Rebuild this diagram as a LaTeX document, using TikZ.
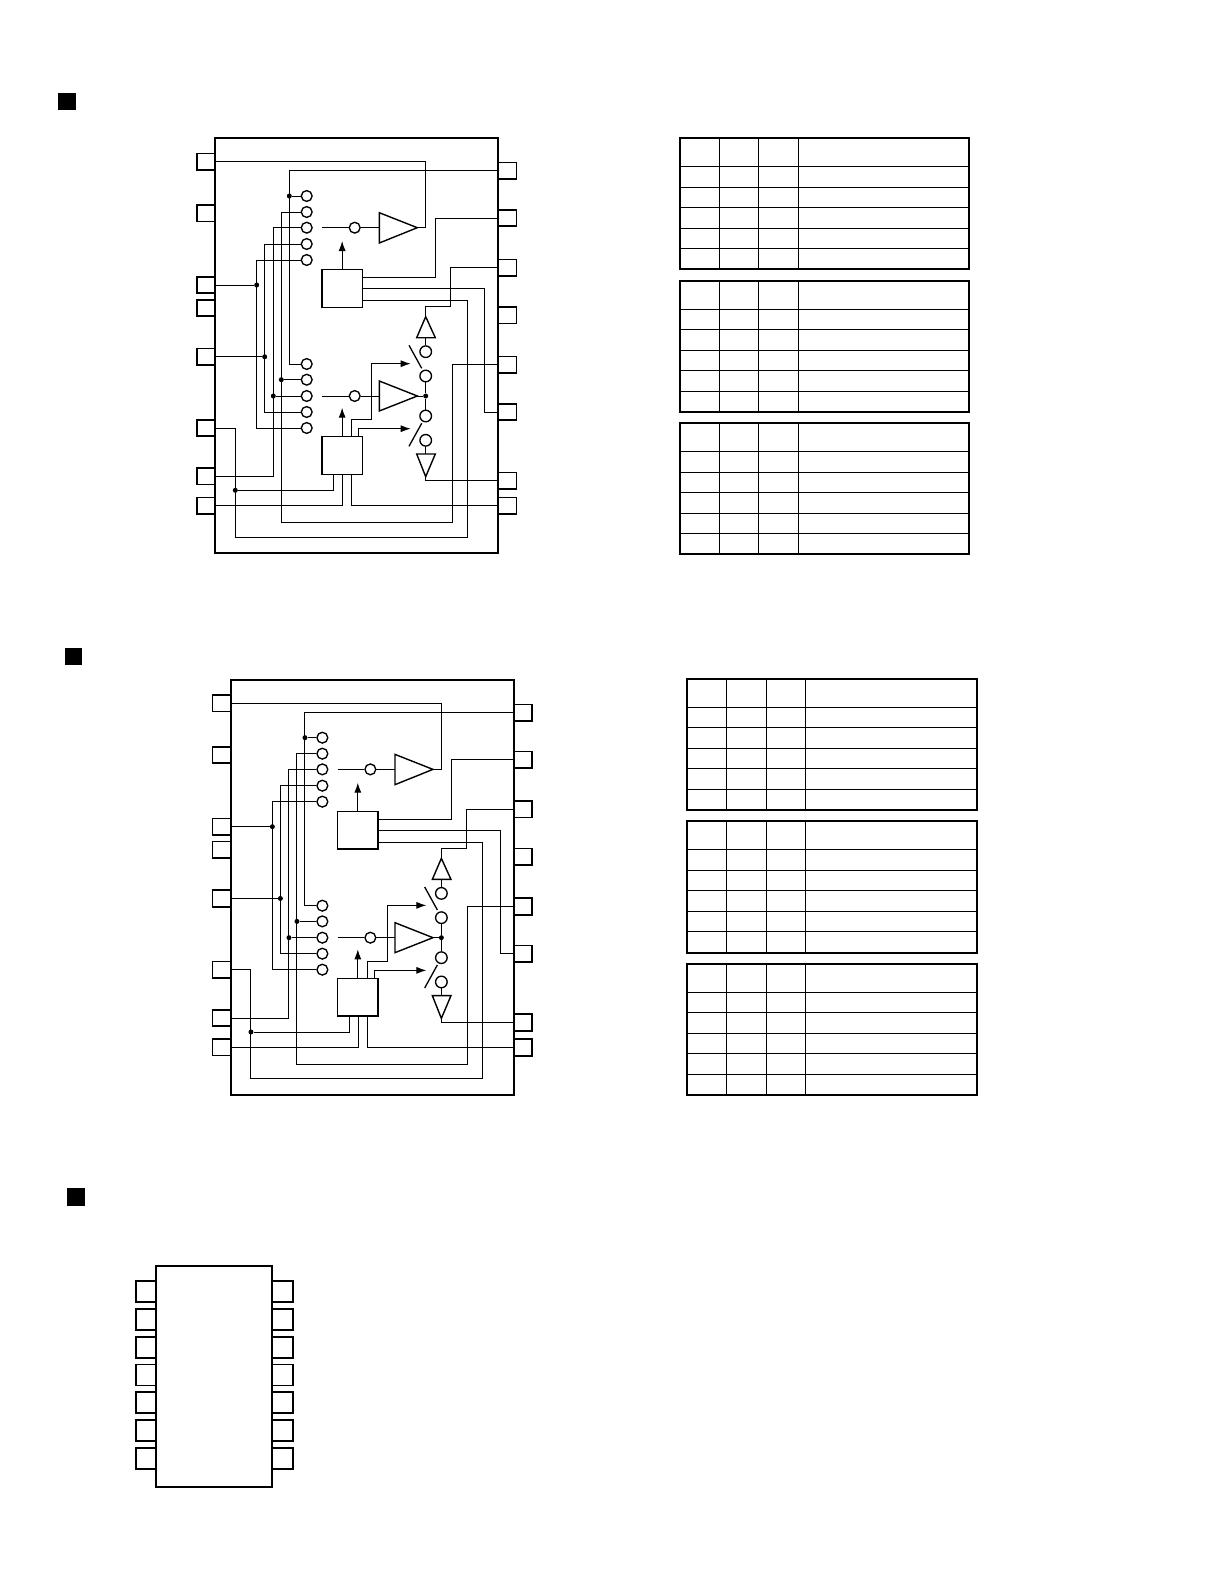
\documentclass[tikz,border=0pt]{standalone}
\usetikzlibrary{arrows.meta}
\tikzset{
  x=1pt,y=-1pt,
  wire/.style={line width=0.95pt,line join=miter},
  sigarrow/.style={wire,-{Latex[length=10pt,width=7pt]}},
  pinbox/.style={draw,line width=1.6pt,rectangle,minimum width=18.3pt,minimum height=16.5pt,inner sep=0pt},
  ringc/.style={draw,line width=1.35pt,circle,minimum size=10.8pt,inner sep=0pt,fill=white},
  junction/.style={fill,circle,minimum size=5pt,inner sep=0pt},
  ctrlblock/.style={draw,line width=1.5pt,rectangle,minimum width=40.3pt,minimum height=37.6pt,inner sep=0pt},
  buffer/.style={line width=1.4pt,line join=miter},
  tableouter/.style={line width=2pt,line join=miter},
  tableinner/.style={line width=0.95pt},
  bullet/.style={fill,rectangle,inner sep=0pt},
  bigchip/.style={line width=1.9pt},
  bigpin/.style={draw,line width=1.9pt,rectangle,minimum width=19.6pt,minimum height=21pt,inner sep=0pt}
}
\newcommand{\icblock}[3]{%
\begin{scope}[shift={(#1,#2)},name prefix=#3-]
  % package
  \node[draw,line width=1.8pt,rectangle,minimum width=283.3pt,minimum height=415pt,inner sep=0pt] (body) at (356.65,345.8) {};
  % pins
  \foreach \n/\y in {1/161.6,2/213.3,3/285,4/308,5/356.8,6/428,7/476.3,8/505.6}
    \node[pinbox] (L\n) at (205.85,\y) {};
  \foreach \n/\y in {1/170.9,2/218,3/267.6,4/315.2,5/364.8,6/412,7/480.8,8/505.8}
    \node[pinbox] (R\n) at (507.15,\y) {};
  % selector rings
  \foreach \n/\y in {1/196,2/212,3/227.7,4/244,5/260}
    \node[ringc] (ct\n) at (306.7,\y) {};
  \foreach \n/\y in {1/364,2/379.7,3/396,4/412,5/428}
    \node[ringc] (cb\n) at (306.7,\y) {};
  \node[ringc] (st) at (354.7,227.7) {};
  \node[ringc] (sb) at (354.7,396) {};
  % control blocks
  \node[ctrlblock] (blkT) at (342.15,288.5) {};
  \node[ctrlblock] (blkB) at (342.15,455.5) {};
  % bus columns
  \coordinate (busa) at (256.7,0);
  \coordinate (busb) at (264.7,0);
  \coordinate (busc) at (273.3,0);
  \coordinate (busd) at (281.3,0);
  \coordinate (buse) at (289.3,0);
  \coordinate (swx) at (425.7,0);
  % amplifiers
  \coordinate (tA) at (379.3,212.7); \coordinate (tB) at (379.3,243); \coordinate (tTip) at (417.3,227.7);
  \coordinate (tIn) at (379.3,227.7);
  \coordinate (bA) at (379.3,381); \coordinate (bB) at (379.3,411); \coordinate (bTip) at (417.3,396);
  \coordinate (bIn) at (379.3,396);
  \draw[buffer,fill=white] (tA) -- (tTip) -- (tB) -- cycle;
  \draw[buffer,fill=white] (bA) -- (bTip) -- (bB) -- cycle;
  % output stage
  \node[ringc,minimum size=11.6pt] (up1) at (425.7,351.7) {};
  \node[ringc,minimum size=11.6pt] (up2) at (425.7,376) {};
  \node[ringc,minimum size=11.6pt] (dn2) at (425.7,416) {};
  \node[ringc,minimum size=11.6pt] (dn1) at (425.7,440.3) {};
  \node[junction] (jc) at (425.7,396) {};
  \coordinate (upA) at (425.7,316.7); \coordinate (upL) at (416.7,337.7); \coordinate (upR) at (435.3,337.7);
  \coordinate (upBase) at (425.7,337.7);
  \coordinate (dnA) at (425.7,476.7); \coordinate (dnL) at (416.7,454); \coordinate (dnR) at (435.3,454);
  \coordinate (dnBase) at (425.7,454);
  \draw[buffer] (upA) -- (upL) -- (upR) -- cycle;
  \draw[buffer] (dnA) -- (dnL) -- (dnR) -- cycle;
  \coordinate (sw1a) at (409,345.3); \coordinate (sw1b) at (421.7,368.3);
  \coordinate (sw2a) at (409,446.3); \coordinate (sw2b) at (421.7,423.3);
  \draw[wire,line width=1.3pt] (sw1a) -- (sw1b);
  \draw[wire,line width=1.3pt] (sw2a) -- (sw2b);
  \draw[wire] (upBase) -- (up1.north);
  \draw[wire] (up2.south) -- (jc) -- (dn2.north);
  \draw[wire] (dn1.south) -- (dnBase);
  \draw[wire] (bTip) -- (jc);
  % inputs to amps
  \coordinate (tStub) at (322.3,227.7);
  \coordinate (bStub) at (322.3,396);
  \draw[wire] (tStub) -- (st.west);
  \draw[wire] (st.east) -- (tIn);
  \draw[wire] (bStub) -- (sb.west);
  \draw[wire] (sb.east) -- (bIn);
  % control arrows
  \coordinate (tArr) at (342.15,241);
  \coordinate (bArr) at (342.15,407.7);
  \draw[sigarrow] (blkT.north) -- (tArr);
  \draw[sigarrow] (blkB.north) -- (bArr);
  % feedback
  \draw[wire] (L1.east) -- (swx |- L1) -- (swx |- tTip) -- (tTip);
  % bus wires and junctions
  \draw[wire] (R1.west) -- (buse |- R1) -- (buse |- cb1) -- (cb1.west);
  \node[junction] (j1) at (buse |- ct1) {};
  \draw[wire] (j1) -- (ct1.west);
  \coordinate (low1) at (452.2,522.3);
  \draw[wire] (ct2.west) -- (busd |- ct2) -- (busd |- low1) -- (low1) -- (low1 |- R5) -- (R5.west);
  \node[junction] (j2) at (busd |- cb2) {};
  \draw[wire] (j2) -- (cb2.west);
  \draw[wire] (ct3.west) -- (busc |- ct3) -- (busc |- L7) -- (L7.east);
  \node[junction] (j3) at (busc |- cb3) {};
  \draw[wire] (j3) -- (cb3.west);
  \draw[wire] (ct4.west) -- (busb |- ct4) -- (busb |- cb4) -- (cb4.west);
  \node[junction] (j4) at (busb |- L5) {};
  \draw[wire] (L5.east) -- (j4);
  \draw[wire] (ct5.west) -- (busa |- ct5) -- (busa |- cb5) -- (cb5.west);
  \node[junction] (j5) at (busa |- L3) {};
  \draw[wire] (L3.east) -- (j5);
  % upper block outputs
  \coordinate (o1) at (362.3,277.3); \coordinate (o1x) at (435.3,277.3);
  \draw[wire] (o1) -- (o1x) -- (o1x |- R2) -- (R2.west);
  \coordinate (o2) at (362.3,288.7); \coordinate (o2x) at (484.3,288.7);
  \draw[wire] (o2) -- (o2x) -- (o2x |- R6) -- (R6.west);
  \coordinate (o3) at (362.3,300.3); \coordinate (o3x) at (467,300.3);
  \coordinate (low2) at (467,537); \coordinate (low2x) at (235.3,537);
  \draw[wire] (o3) -- (o3x) -- (low2) -- (low2x) -- (low2x |- L6) -- (L6.east);
  % output stage feeds
  \coordinate (r3x) at (450.3,306.3);
  \draw[wire] (R3.west) -- (r3x |- R3) -- (r3x) -- (upA |- r3x) -- (upA);
  \coordinate (r7x) at (425.7,480.8);
  \draw[wire] (dnA) -- (r7x) -- (R7.west);
  % lower block connections
  \coordinate (c1) at (351.7,436.7); \coordinate (c1a) at (351.7,419.3); \coordinate (c1b) at (371.7,419.3); \coordinate (c1c) at (371.7,363.7); \coordinate (c1e) at (410.7,363.7);
  \draw[sigarrow] (c1) -- (c1a) -- (c1b) -- (c1c) -- (c1e);
  \coordinate (c2) at (358.3,436.7); \coordinate (c2a) at (358.3,428.7); \coordinate (c2e) at (410.7,428.7);
  \draw[sigarrow] (c2) -- (c2a) -- (c2e);
  \coordinate (d1) at (333.7,474.3); \coordinate (d1a) at (333.7,490.3);
  \node[junction] (j6) at (low2x |- d1a) {};
  \draw[wire] (d1) -- (d1a) -- (j6);
  \coordinate (d2) at (342.7,474.3);
  \draw[wire] (d2) -- (d2 |- L8) -- (L8.east);
  \coordinate (d3) at (351.7,474.3);
  \draw[wire] (d3) -- (d3 |- R8) -- (R8.west);
\end{scope}}
% table: x-left, col1, col2, col3, x-right, y-top, row lines, y-bottom
\newcommand{\tablebox}[8]{%
  \draw[tableinner] (#2,#6) -- (#2,#8);
  \draw[tableinner] (#3,#6) -- (#3,#8);
  \draw[tableinner] (#4,#6) -- (#4,#8);
  \foreach \ry in {#7} { \draw[tableinner] (#1,\ry) -- (#5,\ry); }
  \draw[tableouter] (#1,#6) rectangle (#5,#8);
}
\begin{document}
\begin{tikzpicture}
  \useasboundingbox (0,0) rectangle (1224,1584);
  \fill[white] (0,0) rectangle (1224,1584);
  % section markers
  \node[bullet,minimum width=18pt,minimum height=17.5pt] (m1) at (67,101.3) {};
  \node[bullet,minimum width=17pt,minimum height=17pt] (m2) at (73.5,656.5) {};
  \node[bullet,minimum width=18pt,minimum height=18pt] (m3) at (76,1197) {};
  % block diagrams
  \icblock{0}{0}{a}
  \icblock{15.67}{541.67}{b}
  % tables, first column set
  \tablebox{680}{719.3}{758.7}{798.3}{969.3}{137.9}{166.3,187.3,207.3,228.3,248.3}{269}
  \tablebox{680}{719.3}{758.7}{798.3}{969.3}{280.7}{309.3,329.3,350.3,370.3,391.3}{411.7}
  \tablebox{680}{719.3}{758.7}{798.3}{969.3}{422.7}{451.3,472.3,492.3,513.3,533.3}{553.7}
  % tables, second column set
  \tablebox{686.7}{726.7}{766.7}{805.7}{977}{678.7}{707.3,727.3,748.3,768.3,789.3}{810}
  \tablebox{686.7}{726.7}{766.7}{805.7}{977}{820.7}{849.3,870.3,890.3,911.3,931.3}{952.7}
  \tablebox{686.7}{726.7}{766.7}{805.7}{977}{964}{992.3,1012.3,1033.3,1053.3,1074.3}{1095}
  % third package
  \node[draw,bigchip,rectangle,minimum width=116pt,minimum height=221.3pt,inner sep=0pt] (pkg) at (214,1376.35) {};
  \foreach \n/\y in {1/1291.5,2/1319.5,3/1347.5,4/1375,5/1402.5,6/1430.5,7/1458.5} {
    \node[bigpin] (pl\n) at (145.8,\y) {};
    \node[bigpin,minimum width=20.6pt] (pr\n) at (282.7,\y) {};
  }
\end{tikzpicture}
\end{document}
